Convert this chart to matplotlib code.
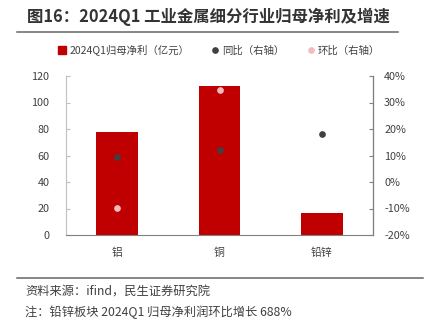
import numpy as np
import matplotlib
matplotlib.use("Agg")
import matplotlib.pyplot as plt
from matplotlib.lines import Line2D
from matplotlib.patches import Patch

plt.rcParams['font.family'] = ['Noto Sans CJK SC', 'DejaVu Sans']

# data
categories = ['铝', '铜', '铅锌']
profit = [77.7, 112.5, 16.4]          # 2024Q1 归母净利 (亿元)
yoy = [9.3, 12.2, 18.1]               # 同比 (%)
qoq = [-9.7, 34.8, np.nan]            # 环比 (%), 铅锌 688% off the chart

red = '#C00000'
dark = '#404040'
pink = '#F2BCBC'
txt = '#404040'

fig = plt.figure(figsize=(4.26, 3.26), dpi=100)
ax = fig.add_axes([66/426, 1-235/326, (373-66)/426, (235-76)/326])
ax2 = ax.twinx()

x = np.arange(len(categories))
ax.bar(x, profit, width=0.41, color=red, zorder=2)
ax.set_xlim(-0.5, 2.5)
ax.set_ylim(0, 120)
ax.set_yticks(range(0, 121, 20))
ax.set_xticks(x)
ax.set_xticklabels(categories)

ax2.plot(x, yoy, 'o', color=dark, markersize=3.8, zorder=3)
ax2.plot(x, qoq, 'o', color=pink, markersize=3.8, zorder=3)
ax2.set_ylim(-20, 40)
ax2.set_yticks(range(-20, 41, 10))
ax2.set_yticklabels(['%d%%' % v for v in range(-20, 41, 10)])
ax.set_zorder(1)
ax2.set_zorder(2)
ax.patch.set_visible(False)

for a in (ax, ax2):
    a.spines['top'].set_visible(False)
ax.spines['left'].set_color('#BFBFBF')
ax.spines['bottom'].set_color('#808080')
ax2.spines['right'].set_color('#808080')
ax2.spines['left'].set_visible(False)
ax2.spines['bottom'].set_visible(False)

ax.tick_params(axis='y', direction='in', length=3, color='#BFBFBF', labelsize=7.8, labelcolor=txt, pad=12)
ax.tick_params(axis='x', length=0, labelsize=7.8, labelcolor=txt, pad=9)
ax2.tick_params(axis='y', direction='in', length=3, color='#808080', labelsize=7.8, labelcolor=txt, pad=8)

handles = [Patch(color=red),
           Line2D([], [], marker='o', ls='', color=dark, markersize=3.8),
           Line2D([], [], marker='o', ls='', color=pink, markersize=3.8)]
labels = ['2024Q1归母净利（亿元）', '同比（右轴）', '环比（右轴）']
leg = fig.legend(handles, labels, loc='center', bbox_to_anchor=(219/426, 1-50/326), ncol=3,
                 frameon=False, fontsize=7.5, handlelength=0.8, handletextpad=0.3,
                 columnspacing=2.1, handleheight=0.8)
for t in leg.get_texts():
    t.set_color(txt)

fig.text(27/426, 1-17/326, '图16：2024Q1 工业金属细分行业归母净利及增速', fontsize=11.8,
         fontweight='bold', color='#333333', va='center', ha='left')
fig.add_artist(Line2D([17/426, 398/426], [1-32/326, 1-32/326], color='#666666', lw=1.1))
fig.add_artist(Line2D([17/426, 423/426], [1-278/326, 1-278/326], color='#666666', lw=1.1))
fig.text(25/426, 1-292/326, '资料来源：ifind，民生证券研究院', fontsize=8.8, color=txt, va='center')
fig.text(25/426, 1-312/326, '注：铅锌板块 2024Q1 归母净利润环比增长 688%', fontsize=8.8, color=txt, va='center')

fig.savefig('out.png', dpi=100)
